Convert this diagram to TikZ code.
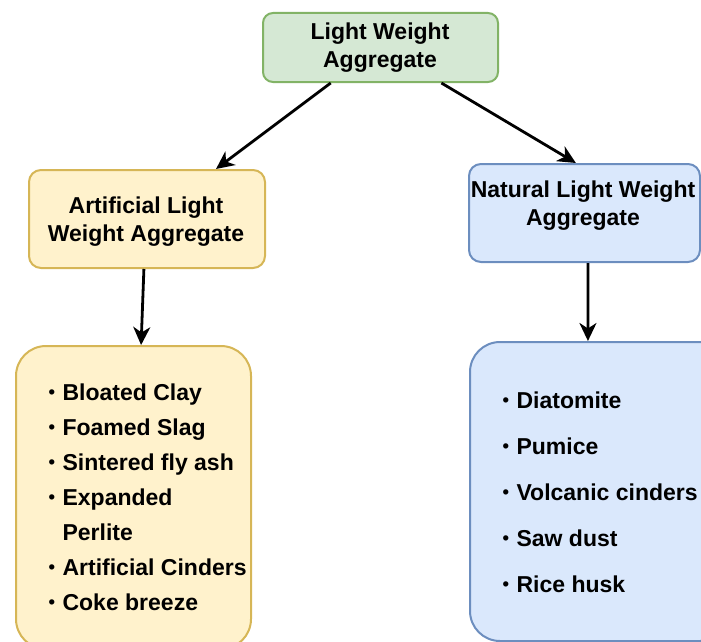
\documentclass[tikz,border=0pt]{standalone}
\usepackage{fontspec}
\setmainfont{Liberation Sans}
\usetikzlibrary{arrows.meta,calc}
\definecolor{gfill}{HTML}{D5E8D4}\definecolor{gdraw}{HTML}{82B366}
\definecolor{yfill}{HTML}{FFF2CC}\definecolor{ydraw}{HTML}{D6B656}
\definecolor{bfill}{HTML}{DAE8FC}\definecolor{bdraw}{HTML}{6C8EBF}
\newcommand\lbul{\raisebox{1.2pt}{\fontsize{18.5}{18.5}\selectfont•}\hspace{7.4pt}}
\begin{document}
\begin{tikzpicture}[x=1pt,y=-1pt,
  box/.style={draw, line width=2pt, inner sep=0pt, anchor=north west},
  txt/.style={font=\fontsize{23}{27}\selectfont\bfseries, anchor=base, inner sep=0pt},
  lst/.style={font=\fontsize{23}{27}\selectfont\bfseries, anchor=base west, inner sep=0pt},
  arr/.style={-{Stealth[length=18pt,width=17pt,inset=5.5pt]}, line width=2.8pt}]
\useasboundingbox (0,0) rectangle (701,642);
% boxes
\node[box, fill=gfill, draw=gdraw, rounded corners=10pt, minimum width=235pt, minimum height=69pt] (top) at (262,12) {};
\node[box, fill=yfill, draw=ydraw, rounded corners=12pt, minimum width=236pt, minimum height=98pt] (lm) at (28,169) {};
\node[box, fill=bfill, draw=bdraw, rounded corners=12pt, minimum width=231pt, minimum height=98pt] (rm) at (468,163) {};
\node[box, fill=yfill, draw=ydraw, rounded corners=30pt, minimum width=235pt, minimum height=303pt] (lb) at (15,345) {};
\node[box, fill=bfill, draw=bdraw, rounded corners=30pt, minimum width=260pt, minimum height=299pt] (rb) at (469,341) {};
% texts
\node[txt] (t1) at (380,40) {Light Weight};
\node[txt] (t2) at (380,67) {Aggregate};
\node[txt] (l1) at (146,213) {Artificial Light};
\node[txt] (l2) at (146,241) {Weight Aggregate};
\node[txt] (r1) at (583,197) {Natural Light Weight};
\node[txt] (r2) at (583,225) {Aggregate};
% left list
\node[lst] (a1) at (48.5,400) {\lbul Bloated Clay};
\node[lst] (a2) at (48.5,435) {\lbul Foamed Slag};
\node[lst] (a3) at (48.5,470) {\lbul Sintered fly ash};
\node[lst] (a4) at (48.5,505) {\lbul Expanded};
\node[lst] (a5) at (62.4,540) {Perlite};
\node[lst] (a6) at (48.5,575) {\lbul Artificial Cinders};
\node[lst] (a7) at (48.5,610) {\lbul Coke breeze};
% right list
\node[lst] (b1) at (502.5,408) {\lbul Diatomite};
\node[lst] (b2) at (502.5,454) {\lbul Pumice};
\node[lst] (b3) at (502.5,500) {\lbul Volcanic cinders};
\node[lst] (b4) at (502.5,546) {\lbul Saw dust};
\node[lst] (b5) at (502.5,592) {\lbul Rice husk};
% arrows
\draw[arr] ($(top.south west)!0.29!(top.south east)$) -- ($(lm.north west)!0.79!(lm.north east)$);
\draw[arr] ($(top.south west)!0.757!(top.south east)$) -- ($(rm.north west)!0.463!(rm.north east)$);
\draw[arr] ($(lm.south west)!0.487!(lm.south east)$) -- ($(lb.north west)!0.532!(lb.north east)$);
\draw[arr] ($(rm.south west)!0.515!(rm.south east)$) -- ($(rb.north west)!0.454!(rb.north east)$);
\end{tikzpicture}
\end{document}
